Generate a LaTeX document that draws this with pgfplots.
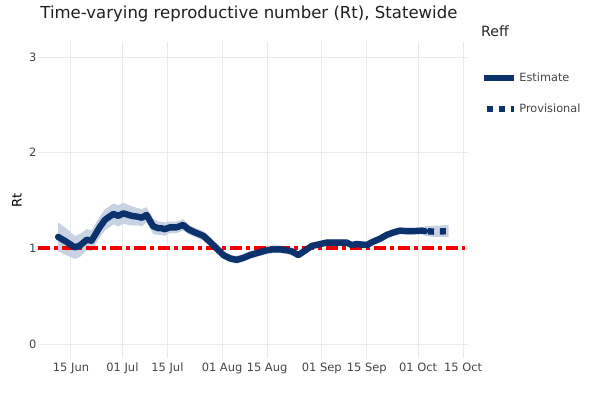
\documentclass[border=0pt]{standalone}
\usepackage{fontspec}
\setmainfont{DejaVu Sans}
\usepackage{pgfplots}
\pgfplotsset{compat=1.18}
\usepgfplotslibrary{fillbetween}
\usepackage{pgfplotstable}
\definecolor{navy}{RGB}{12,50,110}
\definecolor{band}{RGB}{200,210,226}
\definecolor{gridc}{RGB}{234,234,234}
\definecolor{txt}{RGB}{68,68,68}
\definecolor{rline}{RGB}{240,0,0}

\pgfplotstableread{
d est lo hi
-4 1.12 0.97 1.27
-1.5 1.07 0.93 1.21
1.2 1.01 0.89 1.13
2.8 1.03 0.91 1.15
4.9 1.09 0.98 1.20
6.4 1.08 0.97 1.19
9.0 1.225 1.115 1.335
10.6 1.30 1.19 1.41
13.2 1.36 1.25 1.47
14.7 1.34 1.23 1.45
16.3 1.366 1.256 1.476
18.9 1.34 1.24 1.44
20.9 1.33 1.24 1.42
22.0 1.32 1.23 1.41
23.5 1.35 1.27 1.43
25.6 1.23 1.15 1.31
27.2 1.21 1.14 1.28
28.2 1.21 1.14 1.28
29.2 1.20 1.13 1.27
30.8 1.22 1.16 1.28
32.9 1.22 1.16 1.28
34.9 1.245 1.185 1.305
36.5 1.20 1.15 1.25
38.0 1.175 1.125 1.225
41.2 1.13 1.08 1.18
43.2 1.07 1.02 1.12
45.3 1.00 0.96 1.04
47.4 0.93 0.89 0.97
49.5 0.895 0.855 0.935
51.5 0.88 0.84 0.92
53.6 0.90 0.86 0.94
55.7 0.93 0.89 0.97
58.3 0.955 0.915 0.995
60.9 0.98 0.94 1.02
62.9 0.99 0.95 1.03
65.0 0.99 0.95 1.03
67.1 0.98 0.94 1.02
68.6 0.97 0.93 1.01
70.7 0.93 0.895 0.965
72.3 0.965 0.93 1.00
74.9 1.025 0.99 1.06
76.9 1.04 1.005 1.075
79.5 1.06 1.025 1.095
82.6 1.06 1.025 1.095
85.8 1.06 1.025 1.095
87.3 1.035 1.00 1.07
88.9 1.045 1.01 1.08
90.4 1.04 1.005 1.075
92.0 1.035 1.00 1.07
94.0 1.07 1.035 1.105
96.1 1.10 1.065 1.135
98.2 1.14 1.105 1.175
100.2 1.165 1.13 1.20
102.3 1.185 1.15 1.22
104.4 1.18 1.145 1.215
106.5 1.18 1.145 1.215
109.1 1.185 1.15 1.22
110.1 1.18 1.14 1.22
}\estimate

\pgfplotstableread{
d est lo hi
110.1 1.18 1.13 1.23
113 1.175 1.12 1.235
117.5 1.18 1.12 1.245
}\provisional

\pgfplotstableread{
d r
-10.2 1
122.5 1
}\refline

\begin{document}
\begin{tikzpicture}
\begin{axis}[
  at={(28.5pt,26.25pt)}, anchor=south west,
  scale only axis, width=322.5pt, height=237pt,
  xmin=-10.26, xmax=123.5, ymin=-0.146, ymax=3.157,
  xtick={0,16,30,47,61,78,92,108,122},
  xticklabels={15 Jun,01 Jul,15 Jul,01 Aug,15 Aug,01 Sep,15 Sep,01 Oct,15 Oct},
  ytick={0,1,2,3},
  /pgf/number format/assume math mode=true,
  axis line style={draw=none},
  major tick length=0pt,
  grid=major,
  major grid style={gridc, line width=0.75pt},
  tick label style={font=\fontsize{8.6pt}{10pt}\selectfont, text=txt},
  yticklabel style={inner sep=0pt, xshift=-0.9pt},
  ylabel={Rt},
  ylabel style={at={(axis description cs:-0.049,0.5)}, anchor=center, font=\fontsize{9.8pt}{11pt}\selectfont, text=black},
  every axis title shift=0pt,
  title={Time-varying reproductive number (Rt), Statewide},
  title style={at={(axis description cs:0.005,1.089)}, anchor=west, yshift=0pt, inner sep=0pt, font=\fontsize{12.4pt}{14pt}\selectfont, text=black!88},
  legend style={draw=none, fill=none, at={(axis description cs:1.028,0.837)}, anchor=west,
    font=\fontsize{8.5pt}{10pt}\selectfont, text=txt, row sep=11.5pt, cells={anchor=west}, inner sep=0pt},
  legend image code/.code={\draw[#1, line cap=butt] (0pt,0pt) -- (22.5pt,0pt);},
  clip=false,
]
\addplot[draw=none, name path=up, forget plot] table[x=d, y=hi] {\estimate};
\addplot[draw=none, name path=dn, forget plot] table[x=d, y=lo] {\estimate};
\addplot[band, forget plot] fill between[of=up and dn];
\addplot[draw=none, name path=pup, forget plot] table[x=d, y=hi] {\provisional};
\addplot[draw=none, name path=pdn, forget plot] table[x=d, y=lo] {\provisional};
\addplot[band, forget plot] fill between[of=pup and pdn];
\addplot[rline, line width=3pt, dash pattern=on 9pt off 3pt on 3pt off 3pt, forget plot] table[x=d, y=r] {\refline};
\addplot[navy, line width=4.8pt, line join=round, line cap=round] table[x=d, y=est] {\estimate};
\addlegendentry{Estimate}
\addplot[navy, line width=4.8pt, dash pattern=on 4.5pt off 4.5pt, dash phase=6.75pt] table[x=d, y=est] {\provisional};
\addlegendentry{Provisional}
\node[anchor=west, inner sep=0pt, font=\fontsize{10.6pt}{12pt}\selectfont, text=black!85] at (axis description cs:1.030,1.033) {Reff};
\end{axis}
\pgfresetboundingbox
\path[use as bounding box] (0,0) rectangle (450pt,294.75pt);
\end{tikzpicture}
\end{document}
